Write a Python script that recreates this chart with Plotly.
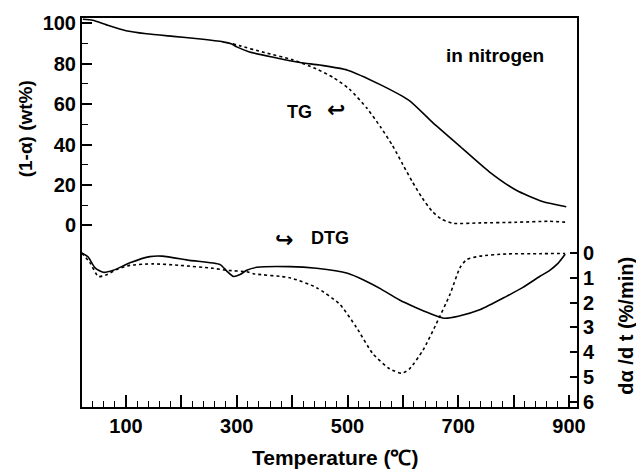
import plotly.graph_objects as go

# ---- data ----
tg_solid_T = [22, 40, 65, 100, 137, 185, 230, 275, 290, 300, 323, 366, 414, 450, 500, 560, 611, 653, 701, 756, 804, 852, 895]
tg_solid_w = [102, 101.5, 99.2, 96.3, 94.8, 93.5, 92.3, 90.8, 89.8, 88.3, 85.8, 83.2, 80.6, 79.3, 76.8, 69.5, 61.8, 51.1, 39.6, 26.5, 17.5, 11.8, 9.2]

tg_dot_T = [293, 306, 350, 400, 443, 475, 503, 535, 560, 581, 600, 617, 635, 653, 670, 690, 740, 804, 864, 897]
tg_dot_w = [89.8, 88.8, 85.5, 82.0, 77.5, 73.0, 67.5, 58.0, 48.5, 39.6, 30.0, 21.6, 13.5, 6.9, 3.0, 1.0, 1.2, 1.5, 2.0, 1.5]

dtg_solid_T = [20, 31, 44, 59, 77, 107, 143, 165, 215, 270, 282, 294, 306, 318, 336, 396, 444, 500, 530, 560, 594, 623, 650, 675, 700, 740, 787, 816, 847, 864, 880, 893]
dtg_solid_v = [0.0, 0.15, 0.6, 0.78, 0.7, 0.4, 0.15, 0.13, 0.3, 0.47, 0.73, 0.95, 0.87, 0.7, 0.58, 0.55, 0.62, 0.82, 1.1, 1.45, 1.9, 2.2, 2.45, 2.63, 2.55, 2.28, 1.75, 1.4, 0.95, 0.72, 0.42, 0.05]

dtg_dot_T = [20, 35, 50, 65, 83, 107, 149, 197, 257, 282, 318, 330, 396, 444, 486, 516, 546, 576, 598, 612, 636, 660, 685, 703, 715, 739, 787, 847, 893]
dtg_dot_v = [0.0, 0.4, 0.95, 0.88, 0.67, 0.5, 0.44, 0.5, 0.62, 0.7, 0.76, 0.84, 1.0, 1.4, 2.07, 3.0, 4.07, 4.67, 4.85, 4.67, 3.93, 2.87, 1.67, 0.6, 0.27, 0.13, 0.04, 0.03, 0.02]

x_tickvals = [100, 200, 300, 400, 500, 600, 700, 800, 900]
x_ticktext = ["100", "", "300", "", "500", "", "700", "", "900"]
y_tickvals = [0, 20, 40, 60, 80, 100]
y_minorvals = [10, 30, 50, 70, 90]
y2_tickvals = [0, 1, 2, 3, 4, 5, 6]

FONT = "Liberation Sans, Arial, sans-serif"
BLK = "black"

fig = go.Figure()
line_solid = dict(color=BLK, width=1.6, shape="spline", smoothing=0.6)
line_dot = dict(color=BLK, width=1.6, dash="dot", shape="spline", smoothing=0.6)

fig.add_trace(go.Scatter(x=tg_solid_T, y=tg_solid_w, mode="lines", line=line_solid, yaxis="y"))
fig.add_trace(go.Scatter(x=tg_dot_T, y=tg_dot_w, mode="lines", line=line_dot, yaxis="y"))
fig.add_trace(go.Scatter(x=dtg_solid_T, y=dtg_solid_v, mode="lines", line=line_solid, yaxis="y2"))
fig.add_trace(go.Scatter(x=dtg_dot_T, y=dtg_dot_v, mode="lines", line=line_dot, yaxis="y2"))

tickfont = dict(family=FONT, size=20, color=BLK, weight="bold")

fig.update_layout(
    width=636, height=469,
    margin=dict(l=82, r=59, t=15, b=62),
    paper_bgcolor="white", plot_bgcolor="white",
    showlegend=False,
    xaxis=dict(
        range=[20.5, 914.4], showgrid=False, zeroline=False,
        showline=True, linecolor=BLK, linewidth=2, mirror=True,
        ticks="inside", ticklen=12, tickwidth=1.5, tickcolor=BLK,
        tickmode="array", tickvals=x_tickvals, ticktext=x_ticktext,
        tickfont=tickfont,
        minor=dict(ticks="inside", dtick=20, tick0=0, ticklen=6, tickwidth=1.2, tickcolor=BLK),
    ),
    yaxis=dict(
        range=[-89.9, 102.6], showgrid=False, zeroline=False,
        showline=True, linecolor=BLK, linewidth=2,
        ticks="inside", ticklen=10, tickwidth=1.5, tickcolor=BLK,
        tickmode="array", tickvals=y_tickvals,
        tickfont=tickfont,
        minor=dict(ticks="inside", tickmode="array", tickvals=y_minorvals, ticklen=6, tickwidth=1.2, tickcolor=BLK),
    ),
    yaxis2=dict(
        range=[6.21, -9.47], overlaying="y", side="right",
        showgrid=False, zeroline=False,
        showline=True, linecolor=BLK, linewidth=2,
        ticks="inside", ticklen=7, tickwidth=1.5, tickcolor=BLK,
        tickmode="array", tickvals=y2_tickvals,
        tickfont=tickfont,
    ),
)

ann_font = dict(family=FONT, size=18, color=BLK, weight="bold")
arrow_font = dict(family="DejaVu Sans", size=22, color=BLK, weight="bold")
C = dict(xanchor="center", yanchor="middle", showarrow=False)
annotations = [
    dict(text="in nitrogen", x=766, y=84, xref="x", yref="y",
         font=dict(family=FONT, size=19, color=BLK, weight="bold"), **C),
    dict(text="TG", x=414, y=56, xref="x", yref="y", font=ann_font, **C),
    dict(text="↩", x=479, y=57.5, xref="x", yref="y", font=arrow_font, **C),
    dict(text="↪", x=385, y=-6.9, xref="x", yref="y", font=arrow_font, **C),
    dict(text="DTG", x=468, y=-6.2, xref="x", yref="y", font=ann_font, **C),
    dict(text="Temperature (℃)", x=0.512, y=-0.13, xref="paper", yref="paper",
         font=dict(family=FONT, size=21, color=BLK, weight="bold"), **C),
    dict(text="(1-α) (wt%)", x=-0.115, y=0.714, xref="paper", yref="paper", textangle=-90,
         font=dict(family=FONT, size=19, color=BLK, weight="bold"), **C),
    dict(text="dα /d t (%/min)", x=1.099, y=0.209, xref="paper", yref="paper", textangle=-90,
         font=dict(family=FONT, size=20, color=BLK, weight="bold"), **C),
]
fig.update_layout(annotations=annotations)

fig.write_html("out.html")
